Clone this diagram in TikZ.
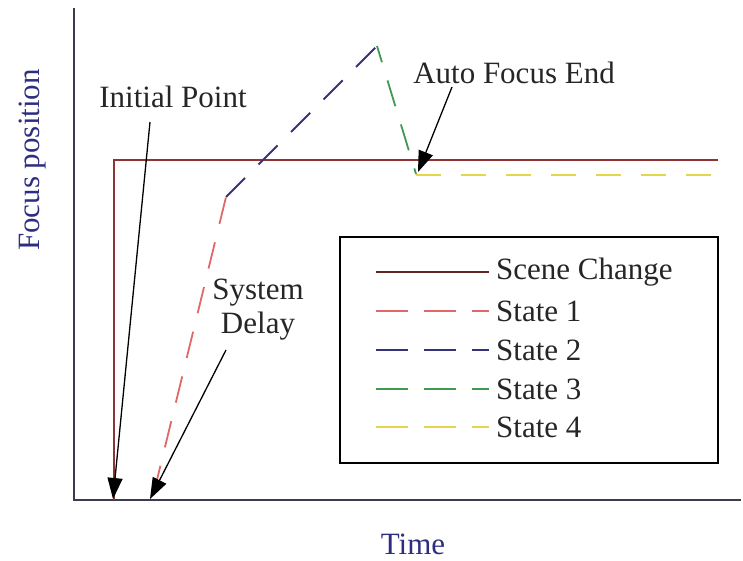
\documentclass[tikz,border=0pt]{standalone}
\usepackage{fontspec}
\setmainfont{Liberation Serif}
\usetikzlibrary{arrows.meta}
\definecolor{scenec}{HTML}{8E3434}
\definecolor{stone}{HTML}{E06868}
\definecolor{sttwo}{HTML}{34347A}
\definecolor{stthree}{HTML}{3E9A4E}
\definecolor{stfour}{HTML}{E4D64A}
\definecolor{axisc}{HTML}{3C3C4C}
\definecolor{labelc}{HTML}{2E2E80}
\definecolor{txtc}{HTML}{262626}
\tikzset{
  lbl/.style={font=\fontsize{31}{34}\selectfont, text=txtc, inner sep=0pt},
  axlbl/.style={font=\fontsize{31}{34}\selectfont, text=labelc, inner sep=0pt},
  axisline/.style={draw=axisc, line width=2pt},
  curve/.style={line width=1.8pt},
  dashcurve/.style={line width=1.8pt, dash pattern=on 27pt off 19pt},
  pointer/.style={draw=black, line width=1.3pt, -{Triangle[length=21pt,width=15pt]}}
}
\begin{document}
\begin{tikzpicture}[x=1pt,y=-1pt]
\useasboundingbox (0,0) rectangle (743,561);

% axes
\coordinate (ytop) at (74,8);
\coordinate (orig) at (74,500);
\coordinate (xend) at (741,500);
\draw[axisline] (ytop) -- (orig) -- (xend);

% curve vertices
\coordinate (s0) at (114,500);
\coordinate (s1) at (114,160);
\coordinate (s2) at (718,160);
\coordinate (a0) at (154,492);
\coordinate (a1) at (226,197);
\coordinate (a2) at (377,46);
\coordinate (a3) at (416,174);
\coordinate (a4) at (718,175);

% scene change and states
\draw[curve, scenec] (s0) -- (s1) -- (s2);
\draw[dashcurve, stone] (a0) -- (a1);
\draw[dashcurve, sttwo] (a1) -- (a2);
\draw[dashcurve, stthree, dash phase=10pt] (a2) -- (a3);
\draw[dashcurve, stfour, dash pattern=on 25pt off 20pt] (416,175) -- (a4);

% annotations
\node[lbl] (init) at (173,97) {Initial Point};
\node[lbl, align=center] (delay) at (258,310) {System\\Delay};
\node[lbl] (afe) at (514,73) {Auto Focus End};
\coordinate (initfrom) at (150,122);
\coordinate (delayfrom) at (226,350);
\coordinate (afefrom) at (452,87);
\coordinate (initto) at (113,499);
\coordinate (delayto) at (150,499);
\coordinate (afeto) at (418,172);
\draw[pointer] (initfrom) -- (initto);
\draw[pointer] (delayfrom) -- (delayto);
\draw[pointer] (afefrom) -- (afeto);

% axis labels
\node[axlbl, rotate=90] (ylab) at (33,160) {Focus position};
\node[axlbl] (xlab) at (413,544) {Time};

% legend
\node[draw=black, line width=1.8pt, minimum width=378pt, minimum height=226pt, inner sep=0pt] (legend) at (529,350) {};
\coordinate (l0a) at (376,272); \coordinate (l0b) at (489,272);
\coordinate (l1a) at (376,311); \coordinate (l1b) at (489,311);
\coordinate (l2a) at (376,350); \coordinate (l2b) at (489,350);
\coordinate (l3a) at (376,389); \coordinate (l3b) at (489,389);
\coordinate (l4a) at (376,427); \coordinate (l4b) at (489,427);
\draw[curve, scenec!70!black] (l0a) -- (l0b);
\draw[dashcurve, stone, dash pattern=on 32pt off 16pt] (l1a) -- (l1b);
\draw[dashcurve, sttwo, dash pattern=on 32pt off 16pt] (l2a) -- (l2b);
\draw[dashcurve, stthree, dash pattern=on 32pt off 16pt] (l3a) -- (l3b);
\draw[dashcurve, stfour, dash pattern=on 32pt off 16pt] (l4a) -- (l4b);
\node[lbl, anchor=west] (t0) at (496,272) {Scene Change};
\node[lbl, anchor=west] (t1) at (496,311) {State 1};
\node[lbl, anchor=west] (t2) at (496,350) {State 2};
\node[lbl, anchor=west] (t3) at (496,389) {State 3};
\node[lbl, anchor=west] (t4) at (496,427) {State 4};
\end{tikzpicture}
\end{document}
